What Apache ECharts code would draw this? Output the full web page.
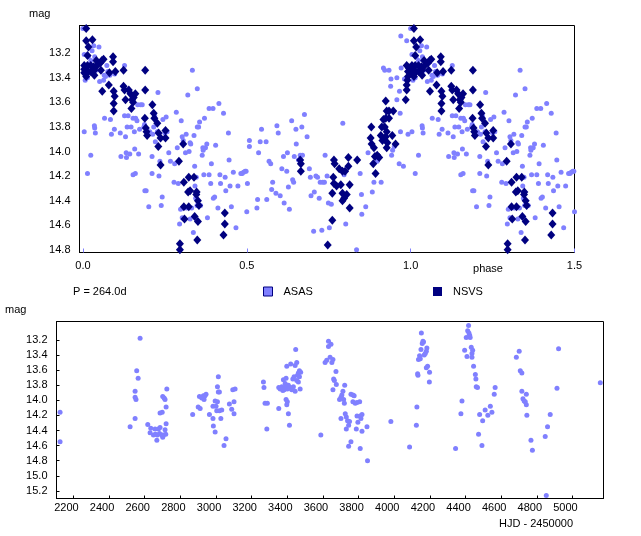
<!DOCTYPE html>
<html><head><meta charset="utf-8">
<script src="https://cdn.jsdelivr.net/npm/echarts@6/dist/echarts.min.js"></script>
<style>html,body{margin:0;padding:0;background:#fff}#c{width:641px;height:536px}</style>
</head><body><div id="c"></div>
<script>
// ---- data ----
const periodText = 'P = 264.0d';
const phaseTicks = [0, 0.5, 1.0, 1.5];
const magTicksTop = [13.2, 13.4, 13.6, 13.8, 14.0, 14.2, 14.4, 14.6, 14.8];
const hjdTicks = [2200, 2400, 2600, 2800, 3000, 3200, 3400, 3600, 3800, 4000, 4200, 4400, 4600, 4800, 5000];
const magTicksBottom = [13.2, 13.4, 13.6, 13.8, 14.0, 14.2, 14.4, 14.6, 14.8, 15.0, 15.2];

// ASAS phased points [phase, mag] (phase 0..1)
const asasPhased = [
[0.000,13.00],[0.004,13.21],[0.017,13.23],[0.028,13.18],[0.024,13.26],[0.033,13.14],[0.036,13.23],[0.049,13.15],[0.007,13.42],[0.014,13.40],
[0.004,13.84],[0.014,14.18],[0.024,14.03],[0.035,13.79],[0.036,13.81],[0.038,13.85],[0.040,13.34],[0.051,13.43],[0.063,13.42],[0.065,13.38],
[0.069,13.39],[0.073,13.30],[0.076,13.35],[0.082,13.38],[0.066,13.73],[0.084,13.74],[0.087,13.86],[0.096,13.82],[0.097,13.37],[0.114,13.85],
[0.116,14.04],[0.127,13.30],[0.127,13.71],[0.130,13.88],[0.132,14.01],[0.133,14.05],[0.135,13.80],[0.138,13.71],[0.143,14.02],[0.147,13.80],
[0.153,13.73],[0.157,13.84],[0.158,13.98],[0.161,13.73],[0.165,13.75],[0.153,14.19],[0.160,14.18],[0.167,13.62],[0.170,14.02],[0.173,13.82],
[0.176,13.62],[0.181,13.62],[0.186,13.80],[0.188,13.78],[0.189,14.32],[0.193,14.32],[0.201,14.45],[0.204,13.84],[0.211,14.04],[0.211,14.18],
[0.213,13.86],[0.216,13.80],[0.219,13.71],[0.221,13.92],[0.227,13.84],[0.229,13.52],[0.232,14.20],[0.235,14.08],[0.239,14.44],[0.242,14.37],
[0.244,13.74],[0.250,13.85],[0.254,13.72],[0.257,13.84],[0.262,14.01],[0.267,14.08],[0.278,14.25],[0.280,14.10],[0.285,13.68],[0.288,13.97],
[0.291,14.26],[0.295,14.59],[0.298,14.47],[0.300,13.75],[0.303,13.88],[0.306,13.91],[0.303,14.54],[0.308,14.55],[0.313,14.01],[0.315,13.86],
[0.316,14.46],[0.320,13.54],[0.324,14.00],[0.327,13.93],[0.327,14.55],[0.329,13.94],[0.332,14.46],[0.334,13.34],[0.337,14.66],[0.339,13.87],
[0.341,14.12],[0.342,14.28],[0.344,14.38],[0.346,14.21],[0.348,14.44],[0.349,13.80],[0.349,13.49],[0.353,13.80],[0.356,13.76],[0.359,14.44],
[0.364,14.03],[0.366,13.97],[0.367,13.99],[0.369,14.19],[0.371,13.73],[0.374,13.97],[0.378,13.94],[0.380,14.54],[0.385,14.19],[0.385,13.65],
[0.390,14.26],[0.392,14.10],[0.397,13.65],[0.398,14.38],[0.402,14.37],[0.405,13.95],[0.412,14.46],[0.415,13.61],[0.418,14.19],[0.420,14.26],
[0.429,13.69],[0.434,14.21],[0.436,14.32],[0.444,13.85],[0.446,14.07],[0.449,14.28],[0.453,14.45],[0.459,14.17],[0.467,14.62],[0.473,14.28],
[0.482,14.18],[0.486,14.18],[0.490,14.17],[0.495,14.16],[0.498,14.16],[0.500,14.49],[0.502,14.26],[0.508,13.91],[0.508,13.96],[0.531,14.46],
[0.533,14.39],[0.536,14.01],[0.541,13.92],[0.545,13.82],[0.559,13.92],[0.561,14.39],[0.568,14.08],[0.573,14.10],[0.576,14.31],[0.579,14.25],
[0.589,14.34],[0.592,13.79],[0.596,13.85],[0.602,14.36],[0.607,14.14],[0.612,14.04],[0.614,14.42],[0.622,14.16],[0.624,14.01],[0.627,14.29],
[0.630,14.47],[0.637,13.75],[0.640,14.23],[0.643,14.25],[0.645,14.04],[0.650,13.82],[0.651,13.94],[0.658,14.07],[0.663,14.03],[0.668,13.80],
[0.670,14.03],[0.676,13.70],[0.684,13.88],[0.691,14.14],[0.694,14.21],[0.696,14.36],[0.704,14.65],[0.706,14.33],[0.711,14.20],[0.716,14.21],
[0.721,14.38],[0.724,14.25],[0.729,14.64],[0.732,14.25],[0.737,14.25],[0.739,14.03],[0.745,14.20],[0.749,14.42],[0.752,14.62],
[0.758,14.43],[0.793,13.77],[0.797,14.19],[0.802,14.59],[0.835,14.80],[0.846,14.18],[0.850,14.35],[0.851,14.51],[0.863,14.45],[0.870,14.01],
[0.883,14.33],[0.888,14.25],[0.898,14.08],[0.910,14.25],[0.917,13.32],[0.921,13.34],[0.934,13.34],[0.939,13.47],[0.940,13.41],[0.942,14.03],
[0.945,13.99],[0.950,13.96],[0.958,13.40],[0.958,13.58],[0.966,13.51],[0.965,14.10],[0.968,13.69],[0.969,13.84],[0.971,13.32],[0.978,14.12],
[0.981,13.41],[0.970,13.06],[0.988,13.10],[0.992,13.86]
];

// NSVS phased points [phase, mag] (phase 0..1)
const nsvsPhased = [
[0.010,13.00],[0.010,13.10],[0.029,13.09],[0.017,13.15],[0.014,13.22],[0.004,13.30],[0.014,13.30],[0.024,13.30],[0.004,13.33],[0.012,13.34],
[0.004,13.36],[0.014,13.36],[0.024,13.35],[0.010,13.39],[0.033,13.31],[0.035,13.34],[0.035,13.38],[0.041,13.26],[0.043,13.30],[0.053,13.28],
[0.058,13.26],[0.063,13.25],[0.055,13.34],[0.059,13.51],[0.092,13.23],[0.092,13.27],[0.081,13.36],[0.099,13.35],[0.079,13.46],[0.094,13.51],
[0.097,13.55],[0.094,13.61],[0.094,13.67],[0.124,13.34],[0.124,13.47],[0.127,13.50],[0.130,13.58],[0.140,13.50],[0.145,13.53],[0.150,13.58],
[0.148,13.65],[0.155,13.56],[0.160,13.53],[0.153,13.60],[0.190,13.34],[0.190,13.50],[0.189,13.73],[0.192,13.81],[0.194,13.84],[0.196,13.87],
[0.212,13.62],[0.216,13.69],[0.218,13.73],[0.227,13.77],[0.231,13.85],[0.237,13.89],[0.252,13.89],[0.252,13.83],[0.230,13.96],[0.237,14.11],
[0.293,14.08],[0.306,13.94],[0.308,14.25],[0.310,14.55],[0.296,14.75],[0.296,14.80],[0.323,14.21],[0.339,14.21],[0.327,14.32],[0.321,14.33],
[0.347,14.33],[0.346,14.35],[0.308,14.45],[0.323,14.45],[0.351,14.40],[0.354,14.44],[0.341,14.53],[0.351,14.57],[0.349,14.72],[0.433,14.50],
[0.433,14.59],[0.429,14.68],[0.663,14.07],[0.665,14.10],[0.665,14.16],[0.747,14.76],
[0.766,14.07],[0.768,14.10],[0.782,14.14],[0.792,14.16],[0.800,14.16],[0.810,14.05],[0.810,14.12],[0.764,14.21],[0.766,14.26],[0.774,14.28],
[0.787,14.27],[0.814,14.27],[0.792,14.34],[0.805,14.35],[0.797,14.38],[0.792,14.40],[0.814,14.46],[0.761,14.34],[0.761,14.56],[0.837,14.07],
[0.880,13.80],[0.878,13.89],[0.881,13.94],[0.888,13.97],[0.891,14.04],[0.898,14.03],[0.904,14.05],[0.886,14.10],[0.893,14.18],[0.909,13.87],
[0.912,13.80],[0.917,13.74],[0.924,13.73],[0.921,13.80],[0.927,13.84],[0.924,13.88],[0.914,13.91],[0.929,13.93],[0.927,13.97],[0.934,13.73],
[0.924,13.59],[0.927,13.67],[0.934,13.67],[0.947,13.67],[0.944,13.87],[0.954,13.94],
[0.985,13.58],[0.988,13.50],[0.988,13.46],[0.990,13.42],[0.992,13.39],[0.988,13.30],[0.995,13.32],[0.992,13.35],[0.998,13.35]
];

// ASAS light curve [HJD - 2450000, mag]
const asasTime = [
[2125,14.16],[2125,14.55],[2518,14.35],[2546,13.88],[2546,13.96],[2551,13.99],[2555,13.61],[2563,13.71],[2546,14.24],[2574,13.18],
[2617,14.32],[2630,14.43],[2634,14.37],[2649,14.46],[2660,14.45],[2658,14.38],[2671,14.46],[2668,14.53],[2677,14.38],[2683,14.44],
[2686,14.36],[2696,14.46],[2686,14.17],[2698,14.16],[2701,14.49],[2705,14.46],[2701,13.95],[2709,13.97],[2714,13.99],[2714,14.39],
[2718,14.45],[2720,14.09],[2720,14.31],[2724,13.85],
[2869,14.19],[2900,14.09],[2907,13.95],[2911,14.11],[2920,13.97],[2929,13.94],[2933,13.99],[2938,13.94],[2944,13.92],[2963,14.19],
[2983,14.08],[2983,14.24],[2985,14.34],[2995,14.42],[2995,14.01],[3000,14.08],[3008,14.02],[3004,14.14],[3008,13.82],[3013,13.69],
[3013,13.89],[3019,13.89],[3019,14.14],[3032,14.13],[3027,14.24],[3045,14.60],[3056,14.51],[3075,14.05],[3088,14.12],[3094,13.86],
[3101,14.02],[3101,14.18],[3107,13.85],
[3266,13.76],[3269,13.83],[3275,14.04],[3288,14.04],[3285,14.38],
[3352,14.11],[3352,13.83],[3360,13.85],[3369,13.82],[3375,13.87],[3378,13.73],[3382,13.86],[3388,13.78],[3393,13.71],[3397,13.55],
[3393,13.82],[3400,13.85],[3406,13.80],[3393,13.99],[3397,14.06],[3400,14.02],[3406,14.18],[3412,14.33],[3412,13.84],[3416,13.83],
[3419,13.52],[3425,13.86],[3431,13.72],[3434,13.82],[3438,13.69],[3444,13.88],[3444,13.54],[3447,13.33],[3453,13.50],[3453,13.74],
[3457,13.67],[3462,13.64],[3468,13.61],[3468,13.69],[3472,13.85],[3475,13.63],[3462,13.76],
[3588,14.46],[3612,13.50],[3621,13.47],[3631,13.22],[3631,13.29],[3640,13.43],
[3645,13.26],[3650,13.50],[3656,13.46],[3660,13.72],[3664,13.74],[3656,13.86],[3673,13.62],[3675,13.79],[3693,13.99],[3701,13.96],
[3706,13.93],[3712,13.88],[3701,14.24],[3716,13.99],[3720,14.04],[3722,13.80],[3725,14.18],[3731,14.22],[3731,14.38],[3738,14.27],
[3744,14.33],[3749,14.28],[3744,14.61],[3757,14.55],[3757,13.92],[3768,13.93],[3775,13.94],[3768,14.02],[3781,14.04],[3791,14.03],
[3806,14.02],[3787,14.38],[3791,14.21],[3796,14.29],[3809,14.21],[3813,14.24],[3819,14.19],[3819,14.41],[3809,14.64],[3847,14.35],
[3850,14.80],
[3981,14.28],[4086,14.62],[4124,14.33],[4127,14.09],[4131,13.65],[4133,13.67],[4136,13.46],[4142,13.41],[4146,13.45],[4150,13.33],
[4152,13.11],[4157,13.25],[4161,13.22],[4164,13.23],[4168,13.40],[4174,13.38],[4180,13.35],[4183,13.31],[4180,13.57],[4187,13.55],
[4197,13.76],[4198,13.63],
[4344,14.64],[4374,14.18],[4380,14.01],[4395,13.34],[4404,13.17],[4408,13.42],[4412,13.08],[4417,13.01],[4419,13.11],[4423,13.14],
[4426,13.17],[4432,13.30],[4436,13.38],[4440,13.34],[4436,13.43],[4445,13.55],[4455,13.66],[4458,13.72],[4460,13.82],[4467,13.83],
[4473,14.45],[4479,14.19],[4492,14.60],[4496,14.27],[4510,14.13],[4525,14.20],[4539,14.08],[4548,14.16],[4561,13.92],[4566,13.83],
[4685,13.43],[4701,13.35],[4707,13.61],[4716,13.64],[4716,13.88],[4722,13.98],[4729,14.01],[4735,14.02],[4741,14.06],[4741,13.92],
[4744,14.20],[4767,14.53],[4775,14.66],[4847,14.48],[4853,15.26],[4860,14.35],[4875,14.19],[4913,13.84],[4922,13.32],[5156,13.77]
];

// ---- chart ----
// the phase diagram repeats phases 0..0.5 once more at 1.0..1.5
function extendPhase(pts){
  return pts.concat(pts.filter(p => p[0] <= 0.5).map(p => [p[0] + 1, p[1]]));
}
const FONT = "'Liberation Sans', Arial, sans-serif";
const ASAS_COLOR = '#8080ff';
const NSVS_COLOR = '#000080';
const lbl = {color:'#000', fontFamily:FONT, fontSize:11};

const chart = echarts.init(document.getElementById('c'));
chart.setOption({
  animation:false,
  backgroundColor:'#fff',
  grid:[
    {left:79.5, top:25.5, width:495, height:227, show:true, borderColor:'#000', borderWidth:1, backgroundColor:'#fff'},
    {left:56.5, top:321.5, width:547, height:177, show:true, borderColor:'#000', borderWidth:1, backgroundColor:'#fff'}
  ],
  xAxis:[
    {gridIndex:0, type:'value', min:-0.0104, max:1.5,
     axisLine:{show:true, onZero:false, lineStyle:{color:'#000'}},
     axisTick:{show:true, inside:true, length:4, customValues:phaseTicks, lineStyle:{color:ASAS_COLOR}},
     axisLabel:Object.assign({customValues:phaseTicks, margin:8, formatter:v => Number(v).toFixed(1)}, lbl),
     splitLine:{show:false}},
    {gridIndex:1, type:'value', min:2105, max:5174,
     axisLine:{show:true, onZero:false, lineStyle:{color:'#000'}},
     axisTick:{show:true, inside:true, length:3, customValues:hjdTicks, lineStyle:{color:'#000'}},
     axisLabel:Object.assign({customValues:hjdTicks, margin:4, padding:[0,14,0,0], formatter:v => String(v)}, lbl),
     splitLine:{show:false}}
  ],
  yAxis:[
    {gridIndex:0, type:'value', inverse:true, min:12.975, max:14.822,
     axisLine:{show:true, onZero:false, lineStyle:{color:'#000'}},
     axisTick:{show:false},
     axisLabel:Object.assign({customValues:magTicksTop, margin:9, formatter:v => Number(v).toFixed(1)}, lbl),
     splitLine:{show:false}},
    {gridIndex:1, type:'value', inverse:true, min:12.958, max:15.3,
     axisLine:{show:true, onZero:false, lineStyle:{color:'#000'}},
     axisTick:{show:true, inside:true, length:3, customValues:magTicksBottom, lineStyle:{color:'#000'}},
     axisLabel:Object.assign({customValues:magTicksBottom, margin:9, formatter:v => Number(v).toFixed(1)}, lbl),
     splitLine:{show:false}}
  ],
  legend:[
    {data:[{name:'ASAS', itemStyle:{color:ASAS_COLOR, borderColor:NSVS_COLOR, borderWidth:1}}],
     left:263, top:286, padding:0, itemWidth:9, itemHeight:9, icon:'rect', selectedMode:false,
     textStyle:{color:'#000', fontFamily:FONT, fontSize:11, padding:[0,0,0,6]}},
    {data:[{name:'NSVS', itemStyle:{color:NSVS_COLOR}}],
     left:433, top:286, padding:0, itemWidth:9, itemHeight:9, icon:'rect', selectedMode:false,
     textStyle:{color:'#000', fontFamily:FONT, fontSize:11, padding:[0,0,0,6]}}
  ],
  graphic:[
    {type:'text', style:{x:29, y:13.5, text:'mag', verticalAlign:'middle', font:'11px ' + FONT, fill:'#000'}},
    {type:'text', style:{x:5, y:310, text:'mag', verticalAlign:'middle', font:'11px ' + FONT, fill:'#000'}},
    {type:'text', style:{x:488, y:269, text:'phase', align:'center', verticalAlign:'middle', font:'11px ' + FONT, fill:'#000'}},
    {type:'text', style:{x:536, y:524, text:'HJD - 2450000', align:'center', verticalAlign:'middle', font:'11px ' + FONT, fill:'#000'}},
    {type:'text', style:{x:73, y:291.5, text:periodText, verticalAlign:'middle', font:'11px ' + FONT, fill:'#000'}}
  ],
  series:[
    {name:'ASAS', type:'scatter', xAxisIndex:0, yAxisIndex:0, data:extendPhase(asasPhased),
     symbol:'circle', symbolSize:5, itemStyle:{color:ASAS_COLOR, opacity:1}, silent:true, z:2},
    {name:'NSVS', type:'scatter', xAxisIndex:0, yAxisIndex:0, data:extendPhase(nsvsPhased),
     symbol:'diamond', symbolSize:[8,9], itemStyle:{color:NSVS_COLOR, opacity:1}, silent:true, z:3},
    {name:'ASAS', type:'scatter', xAxisIndex:1, yAxisIndex:1, data:asasTime,
     symbol:'circle', symbolSize:5, itemStyle:{color:ASAS_COLOR, opacity:1}, silent:true, z:2}
  ]
});
</script>
</body></html>
